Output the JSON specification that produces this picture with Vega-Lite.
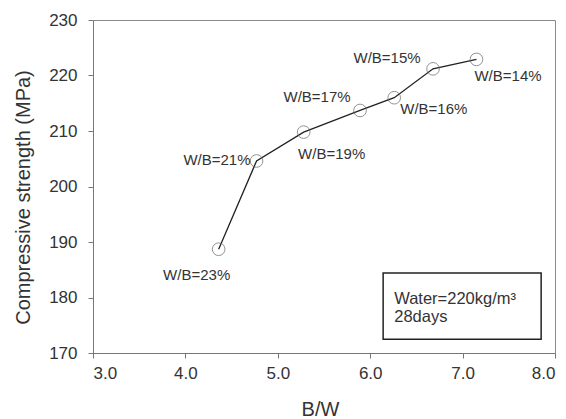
{
  "$schema": "https://vega.github.io/schema/vega-lite/v6.json",
  "width": 462,
  "height": 333,
  "autosize": {"type": "none"},
  "padding": {"left": 93, "top": 20, "right": 11, "bottom": 66},
  "background": "white",
  "config": {
    "font": "Liberation Sans",
    "view": {"stroke": "#8a8a8a", "strokeWidth": 1},
    "axis": {
      "grid": false,
      "domainColor": "#777",
      "tickColor": "#777",
      "tickSize": 5,
      "labelColor": "#333",
      "labelFontSize": 17,
      "titleColor": "#333",
      "titleFontSize": 20,
      "titleFontWeight": "normal"
    }
  },
  "datasets": {
    "points": [
      {"bw": 4.36, "strength": 188.7, "label": "W/B=23%"},
      {"bw": 4.77, "strength": 204.6, "label": "W/B=21%"},
      {"bw": 5.28, "strength": 209.8, "label": "W/B=19%"},
      {"bw": 5.89, "strength": 213.7, "label": "W/B=17%"},
      {"bw": 6.26, "strength": 216.0, "label": "W/B=16%"},
      {"bw": 6.68, "strength": 221.2, "label": "W/B=15%"},
      {"bw": 7.15, "strength": 222.9, "label": "W/B=14%"}
    ],
    "box": [{"x1": 6.14, "x2": 7.85, "y1": 172.5, "y2": 184.4}],
    "note": [
      {"x": 6.26, "y": 178.85, "t": "Water=220kg/m³"},
      {"x": 6.26, "y": 175.6, "t": "28days"}
    ]
  },
  "layer": [
    {
      "data": {"name": "points"},
      "mark": {"type": "line", "color": "#222", "strokeWidth": 1.3},
      "encoding": {
        "x": {
          "field": "bw", "type": "quantitative",
          "scale": {"domain": [3, 8], "nice": false, "zero": false},
          "axis": {"values": [3, 4, 5, 6, 7, 8], "format": ".1f", "title": "B/W",
                   "labelPadding": 7, "titleX": 227, "titleY": 62, "titleBaseline": "alphabetic"}
        },
        "y": {
          "field": "strength", "type": "quantitative",
          "scale": {"domain": [170, 230], "nice": false, "zero": false},
          "axis": {"values": [170, 180, 190, 200, 210, 220, 230], "title": "Compressive strength (MPa)",
                   "labelPadding": 11, "titleX": -60, "titleY": 177, "titleBaseline": "bottom"}
        },
        "order": {"field": "bw"}
      }
    },
    {
      "data": {"name": "points"},
      "mark": {"type": "point", "shape": "circle", "size": 160, "filled": false, "stroke": "#666", "strokeWidth": 1},
      "encoding": {
        "x": {"field": "bw", "type": "quantitative"},
        "y": {"field": "strength", "type": "quantitative"}
      }
    },
    {
      "data": {"name": "box"},
      "mark": {"type": "rect", "fill": "white", "stroke": "#222", "strokeWidth": 1.5},
      "encoding": {
        "x": {"field": "x1", "type": "quantitative"},
        "x2": {"field": "x2"},
        "y": {"field": "y1", "type": "quantitative"},
        "y2": {"field": "y2"}
      }
    },
    {
      "data": {"name": "note"},
      "mark": {"type": "text", "align": "left", "baseline": "alphabetic", "fontSize": 16.5, "color": "#333"},
      "encoding": {
        "x": {"field": "x", "type": "quantitative"},
        "y": {"field": "y", "type": "quantitative"},
        "text": {"field": "t"}
      }
    },
    {
      "data": {"name": "points"},
      "transform": [{"filter": "datum.label === 'W/B=23%'"}],
      "mark": {"type": "text", "align": "center", "baseline": "middle", "fontSize": 15, "color": "#333", "dx": -22, "dy": 26},
      "encoding": {"x": {"field": "bw", "type": "quantitative"}, "y": {"field": "strength", "type": "quantitative"}, "text": {"field": "label"}}
    },
    {
      "data": {"name": "points"},
      "transform": [{"filter": "datum.label === 'W/B=21%'"}],
      "mark": {"type": "text", "align": "right", "baseline": "middle", "fontSize": 15, "color": "#333", "dx": -6, "dy": -1},
      "encoding": {"x": {"field": "bw", "type": "quantitative"}, "y": {"field": "strength", "type": "quantitative"}, "text": {"field": "label"}}
    },
    {
      "data": {"name": "points"},
      "transform": [{"filter": "datum.label === 'W/B=19%'"}],
      "mark": {"type": "text", "align": "center", "baseline": "middle", "fontSize": 15, "color": "#333", "dx": 28, "dy": 22},
      "encoding": {"x": {"field": "bw", "type": "quantitative"}, "y": {"field": "strength", "type": "quantitative"}, "text": {"field": "label"}}
    },
    {
      "data": {"name": "points"},
      "transform": [{"filter": "datum.label === 'W/B=17%'"}],
      "mark": {"type": "text", "align": "center", "baseline": "middle", "fontSize": 15, "color": "#333", "dx": -43, "dy": -13},
      "encoding": {"x": {"field": "bw", "type": "quantitative"}, "y": {"field": "strength", "type": "quantitative"}, "text": {"field": "label"}}
    },
    {
      "data": {"name": "points"},
      "transform": [{"filter": "datum.label === 'W/B=16%'"}],
      "mark": {"type": "text", "align": "left", "baseline": "middle", "fontSize": 15, "color": "#333", "dx": 6, "dy": 11},
      "encoding": {"x": {"field": "bw", "type": "quantitative"}, "y": {"field": "strength", "type": "quantitative"}, "text": {"field": "label"}}
    },
    {
      "data": {"name": "points"},
      "transform": [{"filter": "datum.label === 'W/B=15%'"}],
      "mark": {"type": "text", "align": "center", "baseline": "middle", "fontSize": 15, "color": "#333", "dx": -46, "dy": -11},
      "encoding": {"x": {"field": "bw", "type": "quantitative"}, "y": {"field": "strength", "type": "quantitative"}, "text": {"field": "label"}}
    },
    {
      "data": {"name": "points"},
      "transform": [{"filter": "datum.label === 'W/B=14%'"}],
      "mark": {"type": "text", "align": "left", "baseline": "middle", "fontSize": 15, "color": "#333", "dx": -2, "dy": 17},
      "encoding": {"x": {"field": "bw", "type": "quantitative"}, "y": {"field": "strength", "type": "quantitative"}, "text": {"field": "label"}}
    }
  ]
}
